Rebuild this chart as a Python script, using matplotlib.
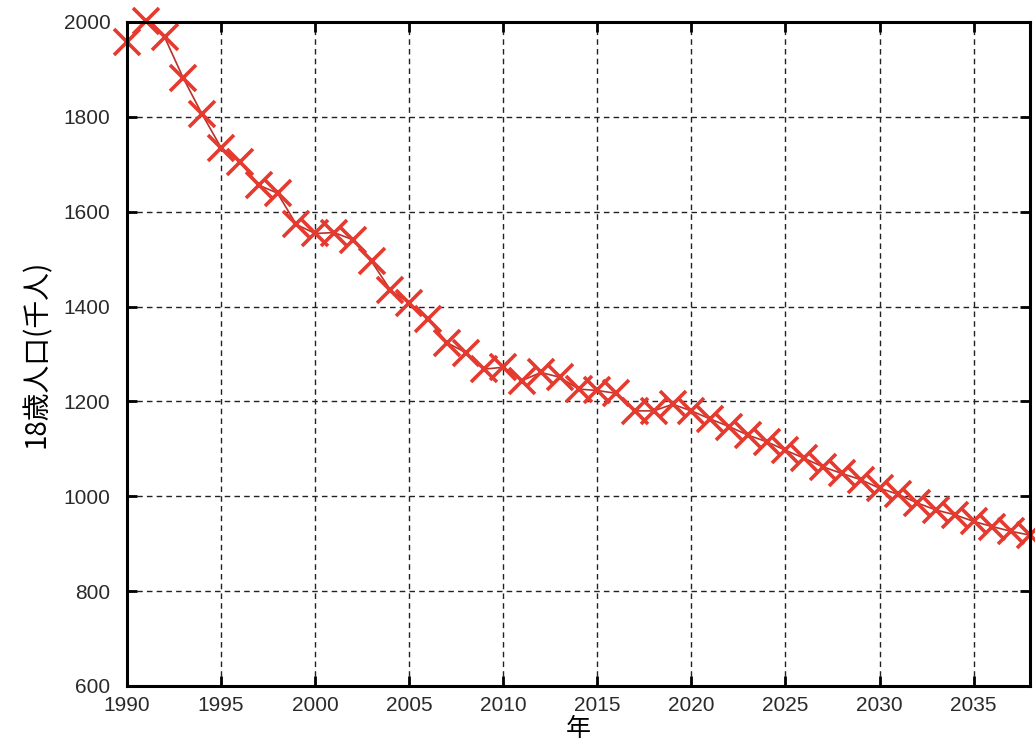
import numpy as np
import matplotlib.pyplot as plt

plt.rcParams['font.family'] = ['Liberation Sans', 'Noto Sans CJK JP', 'DejaVu Sans']

# 18-year-old population (thousands)
years = np.arange(1990, 2039)
pop = [1958, 2001, 1968, 1881, 1805, 1735, 1705, 1656, 1639, 1573,
       1554, 1556, 1541, 1495, 1435, 1407, 1374, 1324, 1303, 1268,
       1272, 1244, 1261, 1251, 1226, 1223, 1217, 1180, 1180, 1194,
       1180, 1163, 1147, 1129, 1115, 1097, 1080, 1062, 1048, 1035,
       1017, 1004, 986, 971, 961, 947, 936, 926, 918]
xticks = np.arange(1990, 2036, 5)
yticks = np.arange(600, 2001, 200)

fig = plt.figure(figsize=(10.35, 7.47), dpi=100)
ax = fig.add_axes([0.1227, 0.0817, 0.8725, 0.8889])

ax.plot(years, pop, color='#b8322a', lw=1.2, zorder=3)
ax.plot(years, pop, ls='none', marker='x', ms=19, mew=2.6,
        color='#e53a2f', clip_on=False, zorder=4)

ax.set_xlim(1990, 2038)
ax.set_ylim(600, 2000)
ax.set_xticks(xticks)
ax.set_yticks(yticks)
ax.grid(True, ls=(0, (4, 3)), color='#222222', lw=1.0)

for s in ax.spines.values():
    s.set_linewidth(2.2)
    s.set_zorder(5)
ax.tick_params(direction='in', length=7, width=2, top=True, right=True,
               labelsize=15, colors='black')
ax.tick_params(axis='y', pad=12)
ax.tick_params(axis='x', pad=7)
for lab in ax.get_xticklabels() + ax.get_yticklabels():
    lab.set_color('#2a2a2a')

ax.set_xlabel('年', fontsize=18, family=['Noto Sans CJK JP'], labelpad=1)
ax.set_ylabel('18歳人口(千人)', fontsize=20,
              family=['Noto Sans CJK JP'], labelpad=8)

fig.savefig('out.png', dpi=100)
